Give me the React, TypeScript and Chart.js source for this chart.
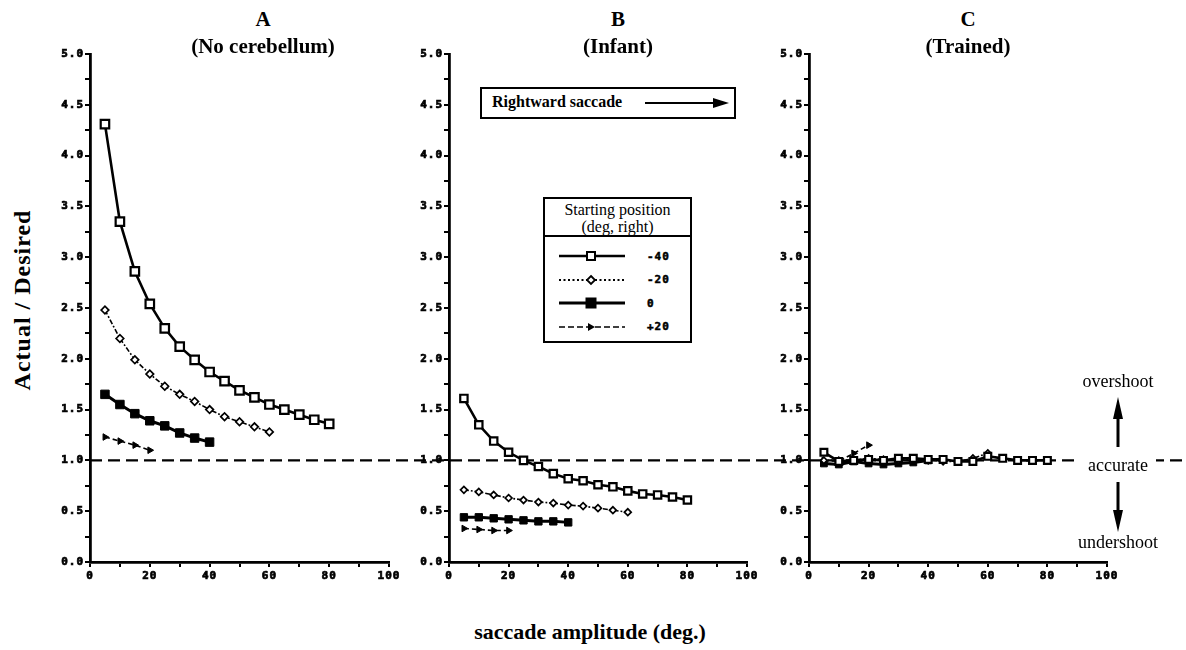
import React, { useEffect, useRef } from 'react';
import { Chart, registerables } from 'chart.js';

Chart.register(...registerables);

// ---------- data ----------
const amplitudes = [5, 10, 15, 20, 25, 30, 35, 40, 45, 50, 55, 60, 65, 70, 75, 80];
const startPositions = ['-40', '-20', '0', '+20'];
const xTicks = [0, 20, 40, 60, 80, 100];
const yTicks = [0, 0.5, 1, 1.5, 2, 2.5, 3, 3.5, 4, 4.5, 5];

// Panel A (No cerebellum)
const aMinus40 = [4.31, 3.35, 2.86, 2.54, 2.3, 2.12, 1.99, 1.87, 1.78, 1.69, 1.62, 1.55, 1.5, 1.45, 1.4, 1.36];
const aMinus20 = [2.48, 2.2, 1.99, 1.85, 1.73, 1.65, 1.58, 1.5, 1.43, 1.38, 1.33, 1.28];
const aZero = [1.65, 1.55, 1.46, 1.39, 1.34, 1.27, 1.22, 1.18];
const aPlus20 = [1.23, 1.19, 1.15, 1.1];

// Panel B (Infant)
const bMinus40 = [1.61, 1.35, 1.19, 1.08, 1.0, 0.94, 0.87, 0.82, 0.8, 0.76, 0.74, 0.7, 0.67, 0.66, 0.64, 0.61];
const bMinus20 = [0.71, 0.69, 0.66, 0.63, 0.61, 0.59, 0.58, 0.56, 0.55, 0.53, 0.51, 0.49];
const bZero = [0.44, 0.44, 0.43, 0.42, 0.41, 0.4, 0.4, 0.39];
const bPlus20 = [0.33, 0.32, 0.31, 0.31];

// Panel C (Trained)
const cMinus40 = [1.08, 0.99, 1.0, 1.01, 1.0, 1.02, 1.02, 1.01, 1.01, 0.99, 0.99, 1.04, 1.02, 1.0, 1.0, 1.0];
const cMinus20 = [1.0, 1.0, 1.0, 1.02, 1.01, 1.0, 1.01, 1.0, 0.99, 0.99, 1.02, 1.07];
const cZero = [0.97, 0.96, 0.99, 0.97, 0.96, 0.97, 0.98, 1.0];
const cPlus20 = [1.0, 0.99, 1.07, 1.15];

const accurateValue = 1.0;

// ---------- layout ----------
const CANVAS_TOP = 40;
const PLOT_TOP_PAD = 14;
const PLOT_H = 508;
const X_AXIS_H = 30;
const Y_AXIS_W = 30;
const CANVAS_H = PLOT_TOP_PAD + PLOT_H + X_AXIS_H;
const DASH = [12, 6];
const DASH_PERIOD = 18;

type PanelCfg = {
  plotLeft: number;
  plotRight: number;
  canvasRight: number;
  series: number[][];
  rect: number;
  diamond: number;
  lineFromAxis: boolean;
  gap?: [number, number, number];
};

const panels: PanelCfg[] = [
  { plotLeft: 90, plotRight: 389, canvasRight: 419, series: [aMinus40, aMinus20, aZero, aPlus20], rect: 6, diamond: 3.8, lineFromAxis: true },
  { plotLeft: 449, plotRight: 747, canvasRight: 779, series: [bMinus40, bMinus20, bZero, bPlus20], rect: 5.2, diamond: 3.4, lineFromAxis: false },
  { plotLeft: 809, plotRight: 1107, canvasRight: 1186, series: [cMinus40, cMinus20, cZero, cPlus20], rect: 4.8, diamond: 3.3, lineFromAxis: false, gap: [1080, 1156, 1182] },
];

const tickFont = { family: 'DejaVu Sans Mono', weight: 'bold' as const, size: 11 };

function seriesStyle(idx: number, cfg: PanelCfg) {
  if (idx === 0) {
    return { borderWidth: 2.6, pointStyle: 'rect', pointRadius: cfg.rect, pointBackgroundColor: '#fff', pointBorderColor: '#000', pointBorderWidth: 2.2 };
  }
  if (idx === 1) {
    return { borderWidth: 1.6, borderDash: [5, 2, 1.8, 2], pointStyle: 'rectRot', pointRadius: cfg.diamond, pointBackgroundColor: '#fff', pointBorderColor: '#000', pointBorderWidth: 1.7 };
  }
  if (idx === 2) {
    return { borderWidth: 3, pointStyle: 'rect', pointRadius: cfg.rect, pointBackgroundColor: '#000', pointBorderColor: '#000', pointBorderWidth: 1 };
  }
  return { borderWidth: 1.6, borderDash: [5, 3], pointStyle: 'triangle', pointRotation: 90, pointRadius: 3.8, pointBackgroundColor: '#000', pointBorderColor: '#000', pointBorderWidth: 1 };
}

function Panel({ cfg }: { cfg: PanelCfg }) {
  const ref = useRef<HTMLCanvasElement>(null);
  const canvasLeft = cfg.plotLeft - Y_AXIS_W;
  const canvasW = cfg.canvasRight - canvasLeft;
  const rightPad = cfg.canvasRight - cfg.plotRight;

  useEffect(() => {
    const canvas = ref.current;
    if (!canvas) return;

    const refLine = {
      id: 'refLine',
      beforeLayout(chart: any) {
        chart.ctx.letterSpacing = '1px';
      },
      beforeDraw(chart: any) {
        chart.ctx.letterSpacing = '1px';
      },
      beforeDatasetsDraw(chart: any) {
        const ctx = chart.ctx;
        const y = chart.scales.y.getPixelForValue(accurateValue);
        const segs: [number, number][] = [];
        const start = cfg.lineFromAxis ? chart.chartArea.left : 0;
        if (cfg.gap) {
          segs.push([start, cfg.gap[0] - canvasLeft]);
          segs.push([cfg.gap[1] - canvasLeft, cfg.gap[2] - canvasLeft]);
        } else {
          segs.push([start, chart.width]);
        }
        ctx.save();
        ctx.strokeStyle = '#000';
        ctx.lineWidth = 2.2;
        ctx.setLineDash(DASH);
        for (const [x0, x1] of segs) {
          ctx.lineDashOffset = (canvasLeft + x0) % DASH_PERIOD;
          ctx.beginPath();
          ctx.moveTo(x0, y);
          ctx.lineTo(x1, y);
          ctx.stroke();
        }
        ctx.restore();
      },
    };

    const datasets = cfg.series.map((vals, i) => ({
      label: startPositions[i],
      data: vals.map((v, k) => ({ x: amplitudes[k], y: v })),
      borderColor: '#000',
      backgroundColor: '#000',
      fill: false,
      tension: 0,
      ...seriesStyle(i, cfg),
    }));

    const chart = new Chart(canvas, {
      type: 'line',
      data: { datasets: datasets as any },
      options: {
        animation: false,
        responsive: false,
        devicePixelRatio: 1,
        events: [],
        layout: { padding: { left: 0, top: PLOT_TOP_PAD, right: rightPad, bottom: 0 } },
        plugins: { legend: { display: false }, tooltip: { enabled: false } },
        scales: {
          x: {
            type: 'linear',
            min: 0,
            max: 100,
            afterFit(scale: any) {
              scale.height = X_AXIS_H;
              scale.paddingLeft = 0;
              scale.paddingRight = 0;
            },
            afterBuildTicks(scale: any) {
              const t: any[] = [];
              for (let v = 0; v <= 100; v += 10) t.push({ value: v });
              scale.ticks = t;
            },
            ticks: {
              autoSkip: false,
              maxRotation: 0,
              padding: 3,
              color: '#000',
              textStrokeColor: '#000',
              textStrokeWidth: 0.7,
              font: tickFont,
              callback: (v: any) => (xTicks.includes(Number(v)) ? String(v) : ''),
            },
            grid: { drawOnChartArea: false, drawTicks: true, tickLength: 5, color: '#000', lineWidth: 2 },
            border: { display: true, color: '#000', width: 2.8 },
          },
          y: {
            type: 'linear',
            min: 0,
            max: 5,
            afterFit(scale: any) {
              scale.width = Y_AXIS_W;
              scale.paddingTop = 0;
              scale.paddingBottom = 0;
            },
            afterBuildTicks(scale: any) {
              const t: any[] = [];
              for (let k = 0; k <= 20; k++) t.push({ value: k * 0.25 });
              scale.ticks = t;
            },
            ticks: {
              autoSkip: false,
              padding: 1,
              color: '#000',
              textStrokeColor: '#000',
              textStrokeWidth: 0.7,
              font: tickFont,
              callback: (v: any) => {
                const n = Number(v);
                return yTicks.some((t) => Math.abs(t - n) < 1e-6) ? n.toFixed(1) : '';
              },
            },
            grid: { drawOnChartArea: false, drawTicks: true, tickLength: 5, color: '#000', lineWidth: 2 },
            border: { display: true, color: '#000', width: 2.8 },
          },
        },
      },
      plugins: [refLine],
    } as any);
    return () => chart.destroy();
  }, []);

  return (
    <canvas
      ref={ref}
      width={canvasW}
      height={CANVAS_H}
      style={{ position: 'absolute', left: canvasLeft, top: CANVAS_TOP, width: canvasW, height: CANVAS_H }}
    />
  );
}

const serif = '"Liberation Serif", "DejaVu Serif", serif';

function Txt(props: { x: number; y: number; text: string; size: number; bold?: boolean; rotate?: number; spacing?: number }) {
  const { x, y, text, size, bold, rotate, spacing } = props;
  return (
    <div
      style={{
        position: 'absolute',
        left: x,
        top: y,
        transform: `translate(-50%, -50%)${rotate ? ` rotate(${rotate}deg)` : ''}`,
        whiteSpace: 'nowrap',
        fontFamily: serif,
        fontSize: size,
        fontWeight: bold ? 700 : 400,
        letterSpacing: spacing || 0,
        color: '#000',
        lineHeight: 1,
      }}
    >
      {text}
    </div>
  );
}

function LegendSample({ idx }: { idx: number }) {
  const w = 66;
  const h = 14;
  const cy = 7;
  const mx = 32;
  let line: React.ReactNode = null;
  let marker: React.ReactNode = null;
  if (idx === 0) {
    line = <line x1={0} y1={cy} x2={w} y2={cy} stroke="#000" strokeWidth={2.4} />;
    marker = <rect x={mx - 4} y={cy - 4} width={8} height={8} fill="#fff" stroke="#000" strokeWidth={2} />;
  } else if (idx === 1) {
    line = <line x1={0} y1={cy} x2={w} y2={cy} stroke="#000" strokeWidth={2} strokeDasharray="2 2.5" />;
    marker = <polygon points={`${mx},${cy - 4} ${mx + 4},${cy} ${mx},${cy + 4} ${mx - 4},${cy}`} fill="#fff" stroke="#000" strokeWidth={1.8} />;
  } else if (idx === 2) {
    line = <line x1={0} y1={cy} x2={w} y2={cy} stroke="#000" strokeWidth={3} />;
    marker = <rect x={mx - 5} y={cy - 5} width={10} height={10} fill="#000" stroke="#000" />;
  } else {
    line = <line x1={0} y1={cy} x2={w} y2={cy} stroke="#000" strokeWidth={1.6} strokeDasharray="6 3" />;
    marker = <polygon points={`${mx + 4},${cy} ${mx - 3},${cy - 4} ${mx - 3},${cy + 4}`} fill="#000" />;
  }
  return (
    <svg width={w} height={h} style={{ display: 'block' }}>
      {line}
      {marker}
    </svg>
  );
}

function Legend() {
  return (
    <div
      style={{
        position: 'absolute',
        left: 543,
        top: 197,
        width: 145,
        height: 142,
        border: '2px solid #000',
        background: '#fff',
        fontFamily: serif,
        color: '#000',
      }}
    >
      <div style={{ height: 38, borderBottom: '2px solid #000', textAlign: 'center', fontSize: 16, lineHeight: '17px', paddingTop: 2, boxSizing: 'border-box' }}>
        <div>Starting position</div>
        <div>(deg, right)</div>
      </div>
      {startPositions.map((p, i) => (
        <div key={p} style={{ position: 'absolute', left: 14, top: 50 + i * 23.5, display: 'flex', alignItems: 'center' }}>
          <LegendSample idx={i} />
          <span style={{ marginLeft: 22, fontFamily: 'DejaVu Sans Mono', fontWeight: 700, fontSize: 11, letterSpacing: 1, WebkitTextStroke: '0.5px #000' }}>{p}</span>
        </div>
      ))}
    </div>
  );
}

export default function App() {
  return (
    <div style={{ position: 'absolute', left: 0, top: 0, width: 1186, height: 650, background: '#fff', overflow: 'hidden' }}>
      {panels.map((p, i) => (
        <Panel key={i} cfg={p} />
      ))}

      <Txt x={263} y={19} text="A" size={21} bold />
      <Txt x={263} y={46} text="(No cerebellum)" size={21} bold />
      <Txt x={618} y={19} text="B" size={21} bold />
      <Txt x={618} y={46} text="(Infant)" size={21} bold />
      <Txt x={968} y={19} text="C" size={21} bold />
      <Txt x={968} y={46} text="(Trained)" size={21} bold />

      <Txt x={22} y={300} text="Actual / Desired" size={24} bold rotate={-90} spacing={1} />
      <Txt x={590} y={632} text="saccade amplitude (deg.)" size={22} bold />

      {/* Rightward saccade box */}
      <div
        style={{
          position: 'absolute',
          left: 480,
          top: 87,
          width: 252,
          height: 28,
          border: '2px solid #000',
          background: '#fff',
        }}
      >
        <span style={{ position: 'absolute', left: 10, top: 5, fontFamily: serif, fontWeight: 700, fontSize: 16, lineHeight: 1, whiteSpace: 'nowrap' }}>
          Rightward saccade
        </span>
        <svg width={95} height={16} style={{ position: 'absolute', left: 157, top: 6 }}>
          <line x1={6} y1={8} x2={80} y2={8} stroke="#000" strokeWidth={2} />
          <polygon points="90,8 74,3 74,13" fill="#000" />
        </svg>
      </div>

      <Legend />

      {/* overshoot / undershoot annotations */}
      <Txt x={1118} y={381} text="overshoot" size={18} />
      <Txt x={1118} y={465} text="accurate" size={18} />
      <Txt x={1118} y={542} text="undershoot" size={18} />
      <svg width={30} height={150} style={{ position: 'absolute', left: 1103, top: 392 }}>
        <line x1={15} y1={55} x2={15} y2={24} stroke="#000" strokeWidth={3} />
        <polygon points="15,5 10,27 20,27" fill="#000" />
        <line x1={15} y1={90} x2={15} y2={120} stroke="#000" strokeWidth={3} />
        <polygon points="15,140 10,118 20,118" fill="#000" />
      </svg>
    </div>
  );
}
